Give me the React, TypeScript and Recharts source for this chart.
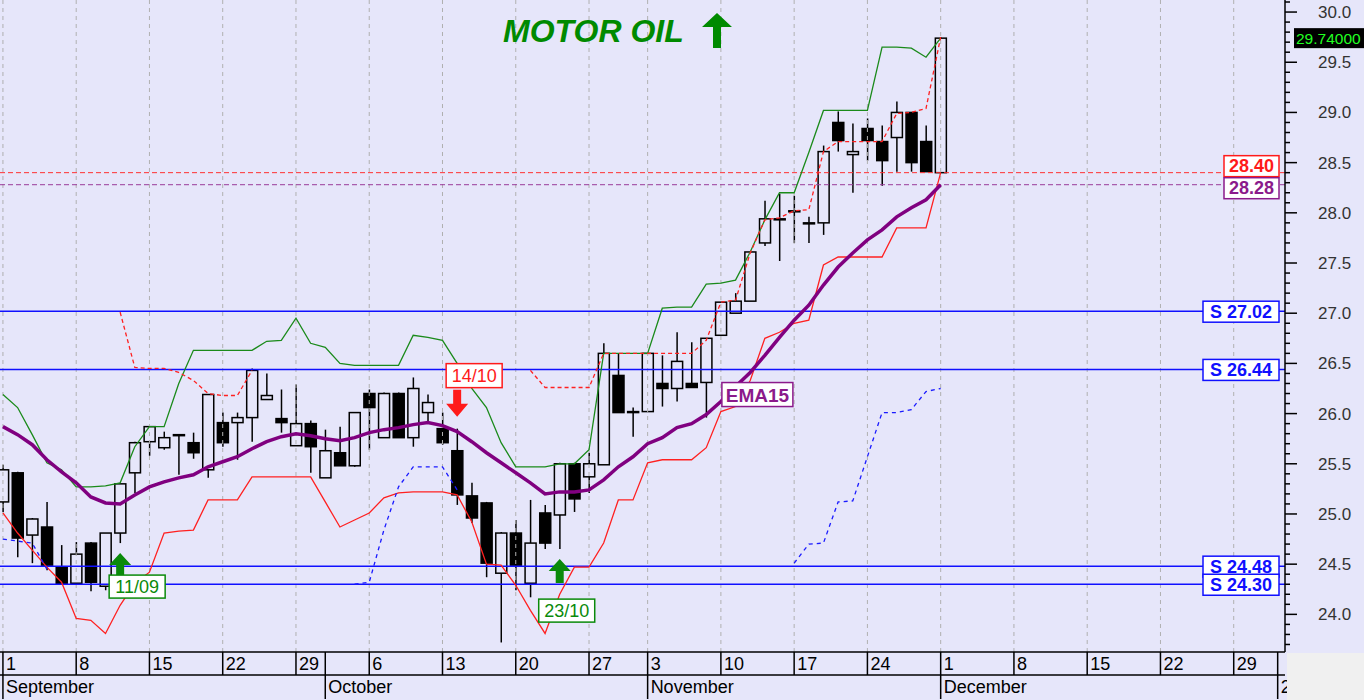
import React from "react";
import {
  ComposedChart,
  Bar,
  Line,
  XAxis,
  YAxis,
  ReferenceLine,
  ReferenceDot,
} from "recharts";

// Motor Oil daily candles, 1 Sep -> 1 Dec (28 Oct is a holiday, no session)
const OPEN = [
  25.12, 25.41, 24.79, 24.87, 24.47, 24.31, 24.71, 24.28, 24.81, 25.41,
  25.72, 25.66, 25.78, 25.71, 25.44, 25.91, 25.91, 25.96, 26.14, 25.95,
  25.68, 25.9, 25.36, 25.61, 25.48, 26.2, 25.76, 26.2, 25.76, 26.01,
  25.85, 25.63, 25.18, 25.11, 24.41, 24.81, 24.31, 25.01, 24.99, 25.5,
  25.37, 25.49, 26.38, 26.02, 26.02, 26.3, 26.25, 26.3, 26.31, 26.78,
  27.0, 27.12, 27.7, 27.94, 28.02, 27.9, 27.9, 28.9, 28.58, 28.84,
  28.71, 28.75, 29.0, 28.71, 28.4,
];
const HIGH = [
  25.49, 25.42, 24.96, 25.12, 24.69, 24.72, 24.72, 24.81, 25.31, 25.72,
  25.87, 25.82, 25.79, 25.81, 26.19, 26.01, 26.01, 26.45, 26.4, 26.24,
  26.29, 25.93, 25.84, 25.87, 26.01, 26.24, 26.21, 26.21, 26.36, 26.19,
  26.01, 25.85, 25.31, 25.12, 24.82, 24.94, 25.14, 25.09, 25.51, 25.51,
  25.61, 26.7, 26.6, 26.06, 26.6, 26.58, 26.81, 26.71, 26.75, 27.11,
  27.2, 27.61, 28.12, 28.19, 28.17, 27.96, 28.67, 29.01, 28.89, 28.94,
  28.87, 29.11, 29.0, 28.87, 29.75,
];
const LOW = [
  25.02, 24.57, 24.51, 24.44, 24.3, 24.3, 24.23, 24.24, 24.71, 25.21,
  25.58, 25.64, 25.39, 25.55, 25.36, 25.67, 25.54, 25.72, 26.14, 25.81,
  25.68, 25.41, 25.36, 25.48, 25.47, 25.64, 25.76, 25.76, 25.67, 25.92,
  25.69, 25.09, 24.91, 24.37, 23.72, 24.24, 24.17, 24.65, 24.65, 25.02,
  25.21, 25.49, 26.01, 25.77, 26.02, 26.07, 26.12, 26.26, 25.96, 26.78,
  27.0, 27.12, 27.67, 27.52, 27.7, 27.7, 27.78, 28.61, 28.2, 28.52,
  28.27, 28.41, 28.41, 28.41, 28.4,
];
const CLOSE = [
  25.44, 24.76, 24.95, 24.49, 24.31, 24.6, 24.32, 24.81, 25.3, 25.71,
  25.87, 25.76, 25.79, 25.61, 26.19, 25.71, 25.96, 26.43, 26.18, 25.91,
  25.9, 25.67, 25.63, 25.48, 26.01, 26.06, 26.2, 25.76, 26.25, 26.11,
  25.71, 25.19, 24.96, 24.51, 24.81, 24.49, 24.71, 24.71, 25.5, 25.15,
  25.5, 26.6, 26.01, 26.01, 26.6, 26.25, 26.52, 26.26, 26.75, 27.11,
  27.12, 27.61, 27.94, 27.93, 28.01, 27.89, 28.61, 28.72, 28.61, 28.72,
  28.52, 29.0, 28.5, 28.41, 29.74,
];

const EMA15 = [
  25.87, 25.79, 25.69, 25.54, 25.42, 25.31, 25.17, 25.11, 25.1, 25.19,
  25.27, 25.32, 25.36, 25.39, 25.47, 25.52, 25.57, 25.65, 25.72, 25.77,
  25.8, 25.78, 25.75, 25.73, 25.76, 25.81, 25.84, 25.86, 25.89, 25.91,
  25.88, 25.82, 25.72, 25.61, 25.51, 25.41, 25.31, 25.2, 25.22, 25.22,
  25.24, 25.34, 25.47, 25.57, 25.7, 25.76, 25.86, 25.9, 25.99, 26.12,
  26.27, 26.41, 26.58, 26.76, 26.93, 27.08, 27.28, 27.46, 27.6, 27.73,
  27.83, 27.96, 28.05, 28.13, 28.28,
];
const UPPER = [
  26.19, 26.06, 25.79, 25.51, 25.44, 25.27, 25.27, 25.28, 25.31, 25.67,
  25.87, 25.87, 26.3, 26.63, 26.63, 26.63, 26.63, 26.63, 26.72, 26.73,
  26.95, 26.7, 26.66, 26.5, 26.48, 26.48, 26.48, 26.48, 26.78, 26.76,
  26.73, 26.5, 26.25, 26.06, 25.71, 25.47, 25.47, 25.47, 25.5, 25.5,
  25.64, 26.6, 26.6, 26.6, 26.6, 27.05, 27.06, 27.06, 27.29, 27.3,
  27.33, 27.61, 27.93, 28.2, 28.2, 28.6, 29.02, 29.02, 29.02, 29.02,
  29.65, 29.65, 29.64, 29.55, 29.74,
];
const LOWER = [
  25.01, 24.81, 24.64, 24.47, 24.32, 23.96, 23.94, 23.81, 24.09, 24.31,
  24.42, 24.81, 24.83, 24.84, 25.14, 25.14, 25.14, 25.37, 25.37, 25.37,
  25.37, 25.37, 25.12, 24.87, 24.94, 25.01, 25.16, 25.21, 25.22, 25.22,
  25.22, 25.19, 24.92, 24.5, 24.49, 24.29, 24.04, 23.81, 24.2, 24.47,
  24.47, 24.71, 25.14, 25.14, 25.51, 25.54, 25.54, 25.54, 25.66, 26.02,
  26.07, 26.33, 26.75, 26.81, 26.9, 26.93, 27.48, 27.56, 27.56, 27.56,
  27.56, 27.85, 27.85, 27.85, 28.4,
];
const STOP_RED = [
  null, null, null, null, null, null, null, null, 27.01, 26.46,
  26.45, 26.45, 26.41, 26.33, 26.2, 26.18, 26.18, 26.43, null, null,
  null, null, null, null, null, null, null, null, null, null,
  null, null, null, null, null, null, 26.43, 26.26, 26.26, 26.26,
  26.26, 26.6, 26.6, 26.6, 26.6, 26.6, 26.6, 26.6, 26.73, 27.11,
  27.13, 27.6, 27.93, 27.95, 28.02, 28.03, 28.61, 28.71, 28.71, 28.71,
  28.71, 28.99, 29.0, 29.04, 29.75,
];
const STOP_BLUE = [
  24.75, 24.73, 24.71, 24.45, null, null, null, null, null, null,
  null, null, null, null, null, null, null, null, null, null,
  null, null, null, null, 24.3, 24.32, 24.84, 25.27, 25.47, 25.47,
  25.47, 25.24, null, null, null, null, null, null, null, null,
  null, null, null, null, null, null, null, null, null, null,
  null, null, null, null, 24.51, 24.7, 24.71, 25.12, 25.13, 25.57,
  26.01, 26.01, 26.04, 26.22, 26.25,
];

const SUPPORTS = [27.02, 26.44, 24.48, 24.3];

// session index of each Monday, and of month starts
const WEEK_STARTS = [0, 5, 10, 15, 20, 25, 30, 35, 40, 44, 49, 54, 59, 64, 69, 74, 79, 84];
const DAY_TICKS = [0, 5, 10, 15, 20, 22, 25, 30, 35, 40, 44, 49, 54, 59, 64, 69, 74, 79, 84, 87];
const DAY_LABELS = ["1", "8", "15", "22", "29", "", "6", "13", "20", "27", "3", "10", "17", "24", "1", "8", "15", "22", "29", ""];
const MONTH_TICKS = [0, 22, 44, 64, 87];
const MONTH_LABELS = ["September", "October", "November", "December", "2026"];
const PRICE_LABELS = [24.0, 24.5, 25.0, 25.5, 26.0, 26.5, 27.0, 27.5, 28.0, 28.5, 29.0, 29.5, 30.0];

const SIGNALS = [
  { i: 8, dir: "up", label: "11/09" },
  { i: 31, dir: "down", label: "14/10" },
  { i: 38, dir: "up", label: "23/10" },
];

const data = OPEN.map((o, i) => ({
  i,
  open: o,
  high: HIGH[i],
  low: LOW[i],
  close: CLOSE[i],
  range: [LOW[i], HIGH[i]],
  ema: EMA15[i],
  upper: UPPER[i],
  lower: LOWER[i],
  stopRed: STOP_RED[i],
  stopBlue: STOP_BLUE[i],
}));

const BG = "#E6E6FA";
const FONT = "'Liberation Sans', Arial, sans-serif";
const X_DOMAIN = [-0.2, 87.5];
const Y_DOMAIN = [23.625, 30.12];
const minorTicks = Array.from({ length: 65 }, (_, k) => Math.round((23.7 + k * 0.1) * 10) / 10);

const Candle = (props: any) => {
  const { x, y, width, height, payload } = props;
  if (!payload || payload.open == null) return null;
  const { open, close, high, low } = payload;
  const top = Math.min(y, y + height);
  const h = Math.abs(height);
  const ppu = high > low ? h / (high - low) : 0;
  const py = (v: number) => top + (high - v) * ppu;
  const cx = x + width / 2;
  const bTop = py(Math.max(open, close));
  const bBot = py(Math.min(open, close));
  const up = close > open;
  return (
    <g>
      <line x1={cx} x2={cx} y1={top} y2={bTop} stroke="#000" strokeWidth={1.5} />
      <line x1={cx} x2={cx} y1={bBot} y2={top + h} stroke="#000" strokeWidth={1.5} />
      <rect
        x={x}
        y={bTop}
        width={width}
        height={Math.max(bBot - bTop, 1)}
        fill={up ? BG : "#000"}
        stroke="#000"
        strokeWidth={1.5}
      />
    </g>
  );
};

const DayTick = (p: any) => {
  const { x, y, payload } = p;
  const label = DAY_LABELS[DAY_TICKS.indexOf(payload.value)];
  return (
    <g>
      <line x1={x} x2={x} y1={y} y2={y + 23} stroke="#000" strokeWidth={1.5} />
      <text x={x + 3} y={y + 18} fontSize={18} fontFamily={FONT} fill="#000">
        {label}
      </text>
    </g>
  );
};

const MonthTick = (p: any) => {
  const { x, y, payload } = p;
  const label = MONTH_LABELS[MONTH_TICKS.indexOf(payload.value)];
  return (
    <g>
      <line x1={x} x2={x} y1={y} y2={y + 24} stroke="#000" strokeWidth={1.5} />
      <text x={x + 3} y={y + 18} fontSize={18} fontFamily={FONT} fill="#000">
        {label}
      </text>
    </g>
  );
};

const PriceTick = (p: any) => {
  const { x, y, payload } = p;
  const v = payload.value;
  const major = PRICE_LABELS.some((m) => Math.abs(m - v) < 1e-6);
  return (
    <g>
      <line x1={x} x2={x + (major ? 12 : 5)} y1={y} y2={y} stroke="#000" strokeWidth={1.5} />
      {major && (
        <text x={x + 33} y={y + 6} fontSize={17} fontFamily={FONT} fill="#333">
          {v.toFixed(1)}
        </text>
      )}
    </g>
  );
};

const BoxLabel = ({ viewBox, text, color, w, dy }: any) => {
  if (!viewBox) return null;
  const right = viewBox.x + viewBox.width - 6;
  const cy = viewBox.y + dy;
  return (
    <g>
      <rect x={right - w} y={cy - 10} width={w} height={21} fill="#fff" stroke={color} strokeWidth={1.5} />
      <text
        x={right - w / 2}
        y={cy + 6.5}
        textAnchor="middle"
        fontSize={18}
        fontWeight="bold"
        fontFamily={FONT}
        fill={color}
      >
        {text}
      </text>
    </g>
  );
};

const LastPrice = ({ viewBox, text }: any) => {
  if (!viewBox) return null;
  const x = viewBox.x + viewBox.width + 9;
  const cy = viewBox.y;
  return (
    <g>
      <rect x={x} y={cy - 10} width={70} height={20} fill="#000" />
      <text x={x + 2} y={cy + 6} fontSize={15.5} fontFamily={FONT} fill="#22ff22">
        {text}
      </text>
    </g>
  );
};

const Signal = ({ cx, cy, dir, label }: any) => {
  if (cx == null || cy == null) return null;
  if (dir === "up") {
    const tip = cy + 10;
    const green = "#0a8a0a";
    const boxTop = label === "23/10" ? tip + 40 : tip + 22;
    const boxLeft = label === "23/10" ? cx - 21 : cx - 11;
    return (
      <g>
        <polygon
          points={`${cx},${tip} ${cx + 11},${tip + 12} ${cx + 4},${tip + 12} ${cx + 4},${tip + 24} ${cx - 4},${tip + 24} ${cx - 4},${tip + 12} ${cx - 11},${tip + 12}`}
          fill={green}
        />
        <rect x={boxLeft} y={boxTop} width={56} height={23} fill="#fff" stroke={green} strokeWidth={1.5} />
        <text x={boxLeft + 28} y={boxTop + 18} textAnchor="middle" fontSize={18} fontFamily={FONT} fill={green}>
          {label}
        </text>
      </g>
    );
  }
  const tip = cy - 12;
  const red = "#ff1a1a";
  return (
    <g>
      <polygon
        points={`${cx},${tip} ${cx + 11},${tip - 13} ${cx + 4},${tip - 13} ${cx + 4},${tip - 27} ${cx - 4},${tip - 27} ${cx - 4},${tip - 13} ${cx - 11},${tip - 13}`}
        fill={red}
      />
      <rect x={cx - 11} y={tip - 53} width={56} height={24} fill="#fff" stroke={red} strokeWidth={1.5} />
      <text x={cx + 17} y={tip - 35} textAnchor="middle" fontSize={18} fontFamily={FONT} fill={red}>
        {label}
      </text>
    </g>
  );
};

const EmaTag = ({ cx, cy }: any) => {
  if (cx == null || cy == null) return null;
  return (
    <g>
      <rect x={cx + 1} y={cy - 19} width={71} height={24} fill="#fff" stroke="#8b1a8b" strokeWidth={1.5} />
      <text x={cx + 36.5} y={cy} textAnchor="middle" fontSize={19} fontWeight="bold" fontFamily={FONT} fill="#8b1a8b">
        EMA15
      </text>
    </g>
  );
};

export default function App() {
  const last = data[data.length - 1];
  return (
    <div style={{ position: "absolute", left: 0, top: 0, width: 1364, height: 700, background: BG, overflow: "hidden" }}>
      <ComposedChart width={1364} height={700} data={data} margin={{ top: 0, right: 0, bottom: 0, left: 0 }}>
        <XAxis
          type="number"
          dataKey="i"
          domain={X_DOMAIN}
          allowDataOverflow
          ticks={DAY_TICKS}
          interval={0}
          tick={DayTick}
          tickLine={false}
          tickSize={0}
          tickMargin={0}
          axisLine={{ stroke: "#000", strokeWidth: 1.5 }}
          height={23}
        />
        <XAxis
          xAxisId="m"
          type="number"
          dataKey="i"
          domain={X_DOMAIN}
          allowDataOverflow
          ticks={MONTH_TICKS}
          interval={0}
          tick={MonthTick}
          tickLine={false}
          tickSize={0}
          tickMargin={0}
          axisLine={{ stroke: "#000", strokeWidth: 1.5 }}
          height={25}
        />
        <YAxis
          orientation="right"
          type="number"
          domain={Y_DOMAIN}
          allowDataOverflow
          ticks={minorTicks}
          interval={0}
          tick={PriceTick}
          tickLine={false}
          tickSize={0}
          tickMargin={0}
          axisLine={{ stroke: "#000", strokeWidth: 1.5 }}
          width={79}
        />
        {WEEK_STARTS.map((w) => (
          <ReferenceLine key={`g${w}`} x={w} stroke="#b0b0b0" strokeDasharray="4 4" />
        ))}
        {SUPPORTS.map((s) => (
          <ReferenceLine
            key={`s${s}`}
            y={s}
            stroke="#1010ff"
            strokeWidth={1.5}
            label={(p: any) => <BoxLabel {...p} text={`S ${s.toFixed(2)}`} color="#1010ff" w={76} dy={0} />}
          />
        ))}
        <ReferenceLine
          y={last.lower}
          stroke="#ff3030"
          strokeDasharray="5 3"
          label={(p: any) => <BoxLabel {...p} text={last.lower.toFixed(2)} color="#ff1a1a" w={55} dy={-7} />}
        />
        <ReferenceLine
          y={last.ema}
          stroke="#9a3a9a"
          strokeDasharray="5 3"
          label={(p: any) => <BoxLabel {...p} text={last.ema.toFixed(2)} color="#8b1a8b" w={55} dy={3} />}
        />
        <ReferenceLine
          y={last.close}
          stroke="none"
          label={(p: any) => <LastPrice {...p} text={last.close.toFixed(5)} />}
        />
        <Bar dataKey="range" barSize={11} shape={(p: any) => <Candle {...p} />} isAnimationActive={false} />
        <Line type="linear" dataKey="upper" stroke="#1a8a1a" strokeWidth={1.3} dot={false} activeDot={false} isAnimationActive={false} />
        <Line type="linear" dataKey="lower" stroke="#ff2020" strokeWidth={1.3} dot={false} activeDot={false} isAnimationActive={false} />
        <Line
          type="linear"
          dataKey="stopRed"
          stroke="#ff2020"
          strokeWidth={1.3}
          strokeDasharray="4 3"
          dot={false}
          activeDot={false}
          connectNulls={false}
          isAnimationActive={false}
        />
        <Line
          type="linear"
          dataKey="stopBlue"
          stroke="#1a1aff"
          strokeWidth={1.3}
          strokeDasharray="4 4"
          dot={false}
          activeDot={false}
          connectNulls={false}
          isAnimationActive={false}
        />
        <Line
          type="linear"
          dataKey="ema"
          stroke="#800080"
          strokeWidth={3.5}
          dot={false}
          activeDot={false}
          isAnimationActive={false}
        />
        {SIGNALS.map((s) => (
          <ReferenceDot
            key={s.label}
            x={s.i}
            y={s.dir === "up" ? LOW[s.i] : HIGH[s.i]}
            r={0}
            shape={(p: any) => <Signal {...p} dir={s.dir} label={s.label} />}
          />
        ))}
        <ReferenceDot x={49} y={EMA15[49]} r={0} shape={(p: any) => <EmaTag {...p} />} />
      </ComposedChart>
      <svg width={1364} height={700} style={{ position: "absolute", left: 0, top: 0, pointerEvents: "none" }}>
        <text x={503} y={42} fontSize={32} fontWeight="bold" fontStyle="italic" fontFamily={FONT} fill="#008a00">
          MOTOR OIL
        </text>
        <polygon points="717,13 732,27 721,27 721,48 713,48 713,27 702,27" fill="#008a00" />
        <rect x={1287} y={653} width={77} height={47} fill="#f0f0f0" />
      </svg>
    </div>
  );
}
